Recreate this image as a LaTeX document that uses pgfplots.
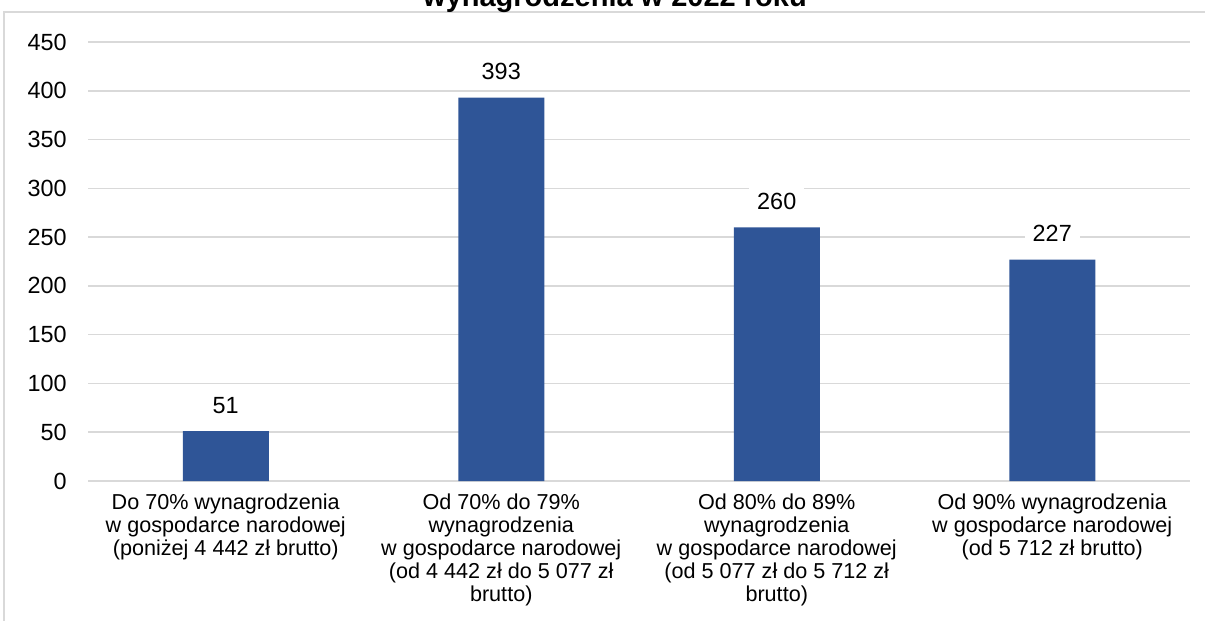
\documentclass[border=0pt]{standalone}
\usepackage{fontspec}
\setmainfont{Liberation Sans}
\usepackage{pgfplots}
\pgfplotsset{compat=1.18}

\definecolor{barblue}{RGB}{47,85,151}
\definecolor{gridgray}{RGB}{217,217,217}

\begin{document}
\begin{tikzpicture}
\useasboundingbox (0,0) rectangle (602.5pt,310.5pt);
\clip (0,0) rectangle (602.5pt,310.5pt);

% chart frame
\draw[gridgray, line width=0.8pt] (2pt,-5pt) -- (2pt,304.5pt) -- (620pt,304.5pt);

% title (second line)
\node[anchor=base, font=\fontsize{14.5}{17}\selectfont\bfseries, inner sep=0pt]
  at (307.5pt,307pt) {wynagrodzenia w 2022 roku};

\begin{axis}[
  at={(44pt,70pt)}, anchor=south west,
  scale only axis, width=551pt, height=219.5pt,
  ybar, bar width=43pt,
  xmin=-0.5, xmax=3.5, ymin=0, ymax=450,
  ytick={0,50,...,450},
  xtick={0,1,2,3},
  xticklabels={
    {Do 70\% wynagrodzenia\\w gospodarce narodowej\\(poniżej 4 442 zł brutto)},
    {Od 70\% do 79\%\\wynagrodzenia\\w gospodarce narodowej\\(od 4 442 zł do 5 077 zł\\brutto)},
    {Od 80\% do 89\%\\wynagrodzenia\\w gospodarce narodowej\\(od 5 077 zł do 5 712 zł\\brutto)},
    {Od 90\% wynagrodzenia\\w gospodarce narodowej\\(od 5 712 zł brutto)}},
  /pgf/number format/assume math mode=true,
  axis line style={draw=none},
  major tick length=0pt,
  ymajorgrids, grid style={gridgray, line width=0.8pt},
  xticklabel style={font=\fontsize{10.8}{11.5}\selectfont,
    align=center, anchor=north, inner sep=0pt, yshift=-6pt},
  yticklabel style={font=\fontsize{11.7}{13}\selectfont,
    anchor=east, inner sep=0pt, xshift=-10.5pt},
  nodes near coords,
  every node near coord/.append style={
    anchor=center, yshift=13pt, fill=white, inner xsep=4pt, inner ysep=3pt,
    font=\fontsize{11.7}{13}\selectfont, text=black},
]
\addplot[fill=barblue, draw=none] coordinates {(0,51) (1,393) (2,260) (3,227)};
\end{axis}
\end{tikzpicture}
\end{document}
